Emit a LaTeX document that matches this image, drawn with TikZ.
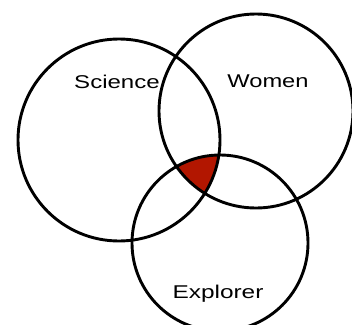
\documentclass[tikz,border=0pt]{standalone}
\usepackage{fontspec}
\setmainfont{Liberation Sans}
\definecolor{venred}{RGB}{178,22,0}
\begin{document}
\begin{tikzpicture}[x=1pt,y=-1pt,
  ring/.style={draw=black,line width=2.9pt},
  lbl/.style={font=\fontsize{18.5}{18.5}\selectfont,inner sep=0pt}]
\useasboundingbox (0,0) rectangle (352,324);
\coordinate (cs) at (119,140);
\coordinate (cw) at (256,111);
\coordinate (ce) at (220,243);
\begin{scope}
  \clip (cs) circle[radius=101pt];
  \clip (cw) circle[radius=97pt];
  \fill[venred] (ce) circle[radius=88pt];
\end{scope}
\draw[ring] (cs) circle[radius=101pt];
\draw[ring] (cw) circle[radius=97pt];
\draw[ring] (ce) circle[radius=88pt];
\node[lbl] (science) at (117,82) {\scalebox{1.3}[1]{Science}};
\node[lbl] (women) at (268,81) {\scalebox{1.28}[1]{Women}};
\node[lbl] (explorer) at (218,294) {\scalebox{1.32}[1]{Explorer}};
\end{tikzpicture}
\end{document}
